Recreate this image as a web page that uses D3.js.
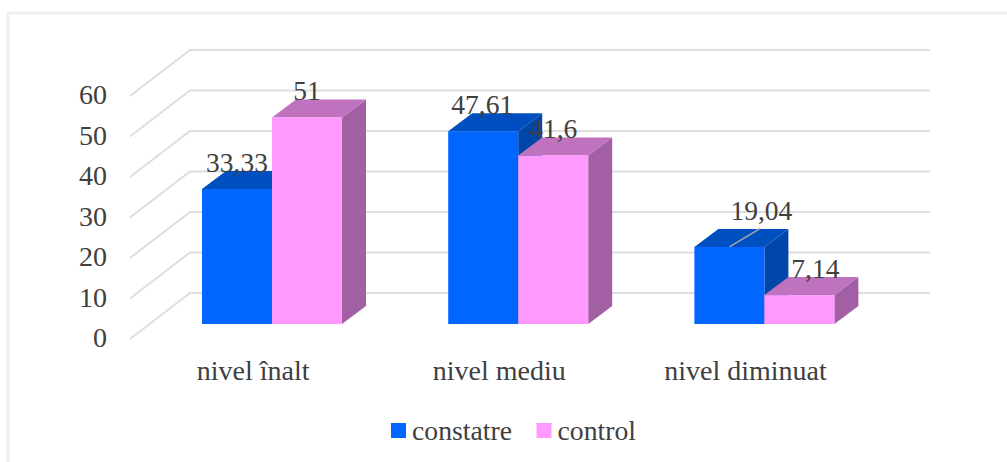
<!DOCTYPE html>
<html lang="ro">
<head>
    <meta charset="UTF-8">
    <title>Nivel constatre / control</title>
    <script src="https://d3js.org/d3.v7.min.js"></script>
    <style>
        body { margin: 0; background: #fff; }
        svg { display: block; }
        text { font-family: "Liberation Serif", serif; fill: #404040; }
    </style>
</head>
<body>
    <svg id="chart" width="1007" height="462"></svg>

    <script>
        const categories = ["nivel înalt", "nivel mediu", "nivel diminuat"];
        const seriesNames = ["constatre", "control"];
        const constatre = [33.33, 47.61, 19.04];
        const control = [51, 41.6, 7.14];
        const yTicks = [0, 10, 20, 30, 40, 50, 60];

        const baseY = 324;          // front edge of the floor under the bars
        const barDx = 24, barDy = -18;   // depth of a bar
        const wallDy = -31;         // back wall gridlines relative to the bar scale
        const floorDx = -60, floorDy = 46;

        const colors = {
            constatre: { front: "#0066ff", top: "#004fc0", side: "#0047a9" },
            control: { front: "#ff99ff", top: "#bf73bf", side: "#a35fa3" }
        };

        const svg = d3.select("#chart");

        // outer frame, only the top and left edges fall inside the page
        svg.append("rect")
            .attr("x", 8).attr("y", 13)
            .attr("width", 1020).attr("height", 480)
            .attr("fill", "none")
            .attr("stroke", "#efefef")
            .attr("stroke-width", 3);

        const x = d3.scaleBand().domain(categories).range([149, 887.6]);
        const xInner = d3.scaleBand().domain(seriesNames).range([53, 193]);
        const y = d3.scaleLinear().domain([0, 60]).range([baseY, baseY - 243]);

        // wall and floor gridlines
        const grid = svg.append("g").attr("fill", "none")
            .attr("stroke", "#dedede").attr("stroke-width", 2);
        yTicks.forEach(t => {
            const gy = y(t) + wallDy;
            grid.append("path")
                .attr("d", `M${190 + floorDx},${gy + floorDy}L190,${gy}L930,${gy}`);
        });

        // y axis labels only
        const axis = svg.append("g")
            .attr("transform", "translate(107,14)")
            .call(d3.axisLeft(y).tickValues(yTicks).tickSize(0).tickPadding(0));
        axis.select(".domain").remove();
        axis.selectAll("text").style("font-size", "28px")
            .style("font-family", '"Liberation Serif", serif').attr("fill", "#404040");

        function drawBar(g, cat, name, v) {
            const x0 = x(cat) + xInner(name);
            const x1 = x0 + xInner.bandwidth();
            const yTop = y(v);
            const c = colors[name];
            g.append("path").attr("fill", c.side)
                .attr("d", `M${x1},${baseY}L${x1 + barDx},${baseY + barDy}L${x1 + barDx},${yTop + barDy}L${x1},${yTop}Z`);
            g.append("path").attr("fill", c.top)
                .attr("d", `M${x0},${yTop}L${x0 + barDx},${yTop + barDy}L${x1 + barDx},${yTop + barDy}L${x1},${yTop}Z`);
            g.append("rect").attr("fill", c.front)
                .attr("x", x0).attr("y", yTop)
                .attr("width", x1 - x0).attr("height", baseY - yTop);
        }

        const bars = svg.append("g");
        categories.forEach((cat, i) => {
            drawBar(bars, cat, "constatre", constatre[i]);
            drawBar(bars, cat, "control", control[i]);
        });

        // data labels, some were moved off their bars by hand
        const fmt = v => String(v).replace(".", ",");
        const labelShift = {
            constatre: [[0, -17], [-1, -17], [32, -27]],
            control: [[0, -17], [0, -18], [16, -17]]
        };
        const labels = svg.append("g").attr("text-anchor", "middle").style("font-size", "27.5px");
        seriesNames.forEach(name => {
            const vals = name === "constatre" ? constatre : control;
            categories.forEach((cat, i) => {
                const cx = x(cat) + xInner(name) + xInner.bandwidth() / 2;
                labels.append("text")
                    .attr("x", cx + labelShift[name][i][0])
                    .attr("y", y(vals[i]) + labelShift[name][i][1])
                    .text(fmt(vals[i]));
            });
        });

        // leader line for the third blue bar
        svg.append("line")
            .attr("x1", x(categories[2]) + xInner("constatre") + 35)
            .attr("y1", y(constatre[2]))
            .attr("x2", x(categories[2]) + xInner("constatre") + 66)
            .attr("y2", y(constatre[2]) - 18.5)
            .attr("stroke", "#a6a6a6").attr("stroke-width", 1.5);

        // category labels
        svg.append("g").attr("text-anchor", "middle").style("font-size", "28px")
            .selectAll("text").data(categories).join("text")
            .attr("x", d => x(d) + x.bandwidth() / 2 - 19)
            .attr("y", 380)
            .text(d => d);

        // legend
        const legendX = [391, 536.5];
        const legend = svg.append("g");
        seriesNames.forEach((name, i) => {
            legend.append("rect")
                .attr("x", legendX[i]).attr("y", 423)
                .attr("width", 15).attr("height", 15)
                .attr("fill", colors[name].front);
            legend.append("text")
                .attr("x", legendX[i] + 21).attr("y", 440)
                .style("font-size", "27.7px")
                .text(name);
        });
    </script>
</body>
</html>
